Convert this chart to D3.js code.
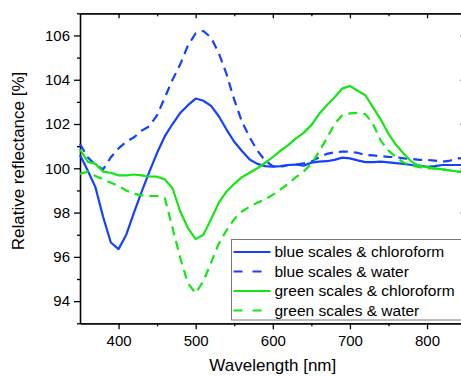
<!DOCTYPE html>
<html>
<head>
<meta charset="utf-8">
<script src="https://cdn.jsdelivr.net/npm/d3@7"></script>
<style>
  body { margin: 0; background: #fff; }
  svg { display: block; font-family: "Liberation Sans", Arial, sans-serif; }
  .axis path, .axis line { stroke: #000; stroke-width: 1.3; }
  .axis text { font-size: 15px; fill: #000; }
</style>
</head>
<body>
<svg></svg>
<script>
// wavelength grid [nm]
const wavelengths = [350, 360, 370, 380, 390, 400, 410, 420, 430, 440, 450, 460, 470, 480, 490, 500, 510, 520, 530, 540,
  550, 560, 570, 580, 590, 600, 610, 620, 630, 640, 650, 660, 670, 680, 690, 700, 710, 720, 730, 740,
  750, 760, 770, 780, 790, 800, 810, 820, 830, 840, 850];

// relative reflectance [%]
const blueChloroform = [100.6, 99.9, 99.15, 97.8, 96.65, 96.35, 97.0, 98.0, 98.95, 99.85,
  100.7, 101.45, 102.0, 102.5, 102.85, 103.15, 103.05, 102.82, 102.35, 101.75,
  101.2, 100.78, 100.4, 100.2, 100.1, 100.07, 100.1, 100.15, 100.17, 100.12,
  100.25, 100.3, 100.32, 100.38, 100.48, 100.45, 100.36, 100.28, 100.28, 100.3,
  100.27, 100.23, 100.2, 100.15, 100.12, 100.07, 100.1, 100.15, 100.15, 100.15, 100.15];
const blueWater = [101.1, 100.5, 100.15, 99.95, 100.5, 100.9, 101.2, 101.4, 101.7, 101.9,
  102.4, 103.2, 104.0, 104.7, 105.55, 106.1, 106.2, 105.9, 105.2, 104.25,
  103.1, 102.1, 101.4, 100.8, 100.35, 100.1, 100.07, 100.15, 100.17, 100.22,
  100.3, 100.5, 100.65, 100.72, 100.75, 100.75, 100.7, 100.6, 100.58, 100.55,
  100.52, 100.5, 100.45, 100.42, 100.38, 100.38, 100.35, 100.3, 100.35, 100.45, 100.45];
const greenChloroform = [100.85, 100.3, 100.2, 99.85, 99.8, 99.68, 99.68, 99.72, 99.68, 99.63,
  99.62, 99.5, 99.1, 98.05, 97.3, 96.8, 97.0, 97.7, 98.45, 98.95,
  99.3, 99.6, 99.8, 100.0, 100.25, 100.5, 100.8, 101.05, 101.35, 101.6,
  101.95, 102.45, 102.85, 103.2, 103.6, 103.72, 103.5, 103.3, 102.75, 102.2,
  101.55, 101.05, 100.65, 100.3, 100.1, 100.05, 100.0, 99.95, 99.9, 99.85, 99.85];
const greenWater = [99.75, 99.85, 99.65, 99.5, 99.35, 99.2, 99.0, 98.85, 98.78, 98.75,
  98.75, 98.65, 97.3, 95.95, 94.8, 94.36, 94.9, 95.75, 96.6, 97.2,
  97.7, 98.05, 98.27, 98.45, 98.6, 98.8, 99.05, 99.3, 99.6, 99.85,
  100.2, 100.75, 101.35, 102.0, 102.4, 102.48, 102.5, 102.45, 102.0, 101.25,
  100.8, 100.5, 100.25, 100.12, 100.05, 100.0, 100.0, 99.95, 99.9, 99.85, 99.85];

const seriesNames = ['blue scales & chloroform', 'blue scales & water',
  'green scales & chloroform', 'green scales & water'];
const seriesColors = ['#1440ff', '#1440ff', '#14e614', '#14e614'];
const seriesDashed = [false, true, false, true];

const xTicks = [400, 500, 600, 700, 800];
const xMinorTicks = [450, 550, 650, 750, 850];
const yTicks = [94, 96, 98, 100, 102, 104, 106];
const yMinorTicks = [93, 95, 97, 99, 101, 103, 105, 107];

const width = 461;
const height = 376;
const margin = { top: 13.3, left: 80, right: 465.6, bottom: 323.3 };

const svg = d3.select('svg').attr('width', width).attr('height', height);

const x = d3.scaleLinear().domain([350, 850]).range([margin.left, margin.right]);
const y = d3.scaleLinear().domain([93, 107]).range([margin.bottom, margin.top]);

// 보조 눈금 먼저
svg.append('g').attr('class', 'axis')
  .attr('transform', `translate(0,${margin.bottom})`)
  .call(d3.axisBottom(x).tickValues(xMinorTicks).tickSize(3).tickSizeOuter(0).tickFormat(''));
svg.append('g').attr('class', 'axis')
  .attr('transform', `translate(${margin.left},0)`)
  .call(d3.axisLeft(y).tickValues(yMinorTicks).tickSize(3).tickSizeOuter(0).tickFormat(''));
svg.append('g').attr('class', 'axis')
  .attr('transform', `translate(0,${margin.top})`)
  .call(d3.axisBottom(x).tickValues(xMinorTicks).tickSize(3).tickSizeOuter(0).tickFormat(''));
svg.append('g').attr('class', 'axis')
  .attr('transform', `translate(${margin.right},0)`)
  .call(d3.axisRight(y).tickValues(yMinorTicks).tickSize(-3).tickSizeOuter(0).tickFormat(''));

// 주 눈금
svg.append('g').attr('class', 'axis')
  .attr('transform', `translate(0,${margin.bottom})`)
  .call(d3.axisBottom(x).tickValues(xTicks).tickSize(6).tickSizeOuter(0).tickPadding(6));
svg.append('g').attr('class', 'axis')
  .attr('transform', `translate(${margin.left},0)`)
  .call(d3.axisLeft(y).tickValues(yTicks).tickSize(6).tickSizeOuter(0).tickPadding(4));
svg.append('g').attr('class', 'axis')
  .attr('transform', `translate(0,${margin.top})`)
  .call(d3.axisBottom(x).tickValues(xTicks).tickSize(5).tickSizeOuter(0).tickFormat(''));
svg.append('g').attr('class', 'axis')
  .attr('transform', `translate(${margin.right},0)`)
  .call(d3.axisLeft(y).tickValues(yTicks).tickSize(5).tickSizeOuter(0).tickFormat(''));

// 곡선
const allSeries = [blueChloroform, blueWater, greenChloroform, greenWater];
const line = d3.line()
  .x((d, i) => x(wavelengths[i]))
  .y((d) => y(d));

svg.append('g')
  .selectAll('path')
  .data(allSeries)
  .enter()
  .append('path')
  .attr('fill', 'none')
  .attr('stroke', (d, i) => seriesColors[i])
  .attr('stroke-width', 2.2)
  .attr('stroke-linejoin', 'round')
  .attr('stroke-dasharray', (d, i) => (seriesDashed[i] ? '9,6' : null))
  .attr('d', line);

// 범례
const legend = svg.append('g').attr('transform', 'translate(231.5,239.5)');
legend.append('rect')
  .attr('width', 240)
  .attr('height', 80.5)
  .attr('fill', '#fff')
  .attr('stroke', '#777')
  .attr('stroke-width', 1);

const rows = legend.selectAll('.row')
  .data(seriesNames)
  .enter()
  .append('g')
  .attr('class', 'row')
  .attr('transform', (d, i) => `translate(0,${12.5 + i * 19.5})`);

rows.append('line')
  .attr('x1', 2)
  .attr('x2', 39)
  .attr('stroke', (d, i) => seriesColors[i])
  .attr('stroke-width', 2.2)
  .attr('stroke-dasharray', (d, i) => (seriesDashed[i] ? '9,10' : null));

rows.append('text')
  .attr('x', 43)
  .attr('dy', '0.35em')
  .style('font-size', '15.5px')
  .text((d) => d);

// 축 제목
svg.append('text')
  .attr('x', (margin.left + margin.right) / 2)
  .attr('y', 371)
  .attr('text-anchor', 'middle')
  .style('font-size', '17px')
  .text('Wavelength [nm]');

svg.append('text')
  .attr('transform', 'translate(24,161) rotate(-90)')
  .attr('text-anchor', 'middle')
  .style('font-size', '17px')
  .text('Relative reflectance [%]');
</script>
</body>
</html>
